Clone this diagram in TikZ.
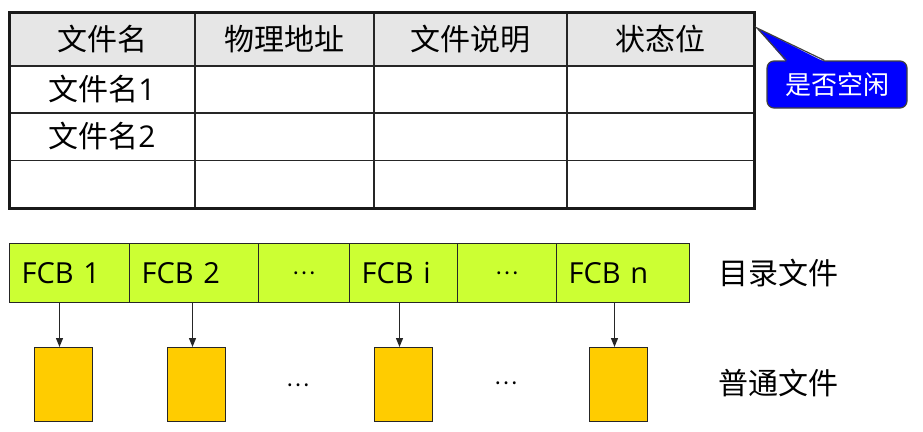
\documentclass[tikz,border=0pt]{standalone}
\usepackage{fontspec}
\setmainfont{Open Sans}
\newfontfamily\cjk{Noto Sans CJK SC}
\usetikzlibrary{arrows.meta,calc}
\definecolor{fcbgreen}{HTML}{CCFF33}
\definecolor{fileyellow}{HTML}{FFCC00}
\definecolor{hdrgray}{HTML}{E6E6E6}
\definecolor{calloutblue}{HTML}{0000FF}
\begin{document}
\begin{tikzpicture}[x=1pt,y=-1pt,
  txt/.style={inner sep=0pt, font=\cjk\fontsize{30}{32}\selectfont},
  fcbcell/.style={draw=black!85, line width=1.2pt, fill=fcbgreen, anchor=north west,
    minimum height=59pt, inner ysep=0pt, inner xsep=12pt, align=left,
    font=\fontsize{29}{31}\selectfont},
  dotcell/.style={draw=black!85, line width=1.2pt, fill=fcbgreen, anchor=north west,
    minimum height=59pt, inner sep=0pt, font=\cjk\fontsize{22}{24}\selectfont},
  filebox/.style={draw=black!85, line width=1pt, fill=fileyellow, anchor=north west,
    minimum width=58pt, minimum height=74pt, inner sep=0pt},
  link/.style={line width=1.2pt, draw=black!85, -{Triangle[length=9pt,width=7pt]}},
  callbox/.style={fill=calloutblue, draw=black!75, line width=1.2pt, rounded corners=7pt,
    minimum width=140pt, minimum height=47pt, inner sep=0pt, text=white,
    font=\cjk\fontsize{26}{28}\selectfont}
]
\useasboundingbox (0,0) rectangle (923,431);

% ---- table ----
\fill[hdrgray] (9,12) rectangle (754,65.7);
\draw[line width=1.6pt, black!85]
  (9,65.7) -- (754,65.7)
  (9,113) -- (754,113)
  (9,160.5) -- (754,160.5)
  (195,12) -- (195,208)
  (374,12) -- (374,208)
  (567,12) -- (567,208);
\draw[line width=3pt, black!90] (9,12) rectangle (754,208);

\node[txt] (h1) at (102,39) {文件名};
\node[txt] (h2) at (284.5,39) {物理地址};
\node[txt] (h3) at (470.5,39) {文件说明};
\node[txt] (h4) at (660.5,39) {状态位};
\node[txt] (r1) at (102,89) {文件名{\rmfamily 1}};
\node[txt] (r2) at (102,136) {文件名{\rmfamily 2}};

% ---- callout ----
\coordinate (tip) at (757,28);
\node[callbox] (call) at (837,84.5) {是否空闲};
\fill[calloutblue] (tip) -- ($(call.north west)+(20,1.5)$) -- ($(call.north west)+(58,1.5)$) -- cycle;
\draw[black!75, line width=1.2pt] ($(call.north west)+(20,0)$) -- (tip) -- ($(call.north west)+(58,0)$);

% ---- directory strip ----
\node[fcbcell, minimum width=120pt, text width=96pt] (f1) at (9,243) {FCB 1};
\node[fcbcell, minimum width=129pt, text width=105pt] (f2) at (129,243) {FCB 2};
\node[dotcell, minimum width=91pt] (f3) at (258,243) {…};
\node[fcbcell, minimum width=108pt, text width=84pt] (f4) at (349,243) {FCB i};
\node[dotcell, minimum width=99pt] (f5) at (457,243) {…};
\node[fcbcell, minimum width=133pt, text width=109pt] (f6) at (556,243) {FCB n};

% ---- files ----
\node[filebox] (b1) at (34,347) {};
\node[filebox] (b2) at (167,347) {};
\node[filebox] (b3) at (374,347) {};
\node[filebox] (b4) at (589,347) {};
\node[inner sep=0pt, font=\cjk\fontsize{22}{24}\selectfont] (d1) at (298,385) {…};
\node[inner sep=0pt, font=\cjk\fontsize{22}{24}\selectfont] (d2) at (506,383) {…};

\coordinate (a1) at ($(b1.north)+(-4,0)$);
\coordinate (a2) at ($(b2.north)+(-4,0)$);
\coordinate (a3) at ($(b3.north)+(-4,0)$);
\coordinate (a4) at ($(b4.north)+(-4,0)$);
\draw[link] (a1 |- f1.south) -- (a1);
\draw[link] (a2 |- f2.south) -- (a2);
\draw[link] (a3 |- f4.south) -- (a3);
\draw[link] (a4 |- f6.south) -- (a4);

% ---- labels ----
\node[txt] (l1) at (778,273) {目录文件};
\node[txt] (l2) at (778,383) {普通文件};
\end{tikzpicture}
\end{document}
